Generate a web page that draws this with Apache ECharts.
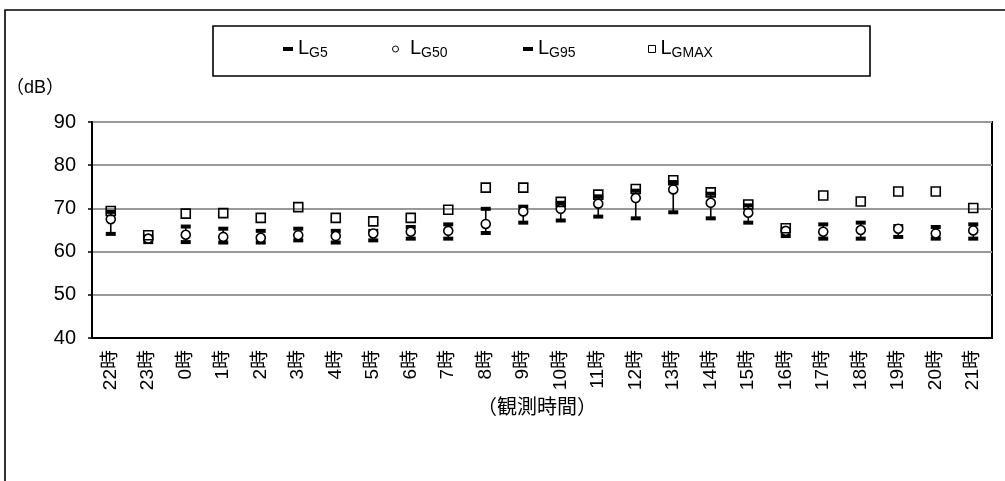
<!DOCTYPE html>
<html>
<head>
<meta charset="utf-8">
<script src="https://cdn.jsdelivr.net/npm/echarts@6/dist/echarts.min.js"></script>
<style>
html,body{margin:0;padding:0;background:#fff;}
#c{width:1005px;height:481px;}
</style>
</head>
<body>
<div id="c"></div>
<script>
const categories = ['22時','23時','0時','1時','2時','3時','4時','5時','6時','7時','8時','9時','10時','11時','12時','13時','14時','15時','16時','17時','18時','19時','20時','21時'];
const LG5   = [69.2, 63.5, 65.8, 65.3, 64.8, 65.3, 64.8, 64.8, 65.7, 66.3, 69.9, 70.4, 71.3, 72.8, 74.1, 76.1, 73.4, 70.7, 65.2, 66.3, 66.7, 65.9, 65.7, 66.3];
const LG50  = [67.5, 63.0, 63.9, 63.4, 63.2, 63.8, 63.6, 64.2, 64.6, 64.8, 66.4, 69.3, 69.9, 71.1, 72.4, 74.4, 71.3, 69.0, 64.8, 64.6, 65.0, 65.3, 64.2, 64.9];
const LG95  = [64.1, 62.2, 62.2, 62.1, 62.1, 62.6, 62.1, 62.6, 63.0, 63.0, 64.3, 66.7, 67.2, 68.1, 67.7, 69.1, 67.7, 66.7, 63.6, 63.0, 63.0, 63.4, 63.0, 63.0];
const LGMAX = [69.4, 63.8, 68.8, 68.9, 67.8, 70.3, 67.8, 67.0, 67.8, 69.7, 74.8, 74.8, 71.5, 73.2, 74.5, 76.5, 73.7, 70.9, 65.4, 73.0, 71.6, 73.9, 73.9, 70.1];
const yTicks = {min: 40, max: 90, interval: 10};
const subLabels = {LG5: 'G5', LG50: 'G50', LG95: 'G95', LGMAX: 'GMAX'};

const FONT = "'Liberation Sans','Noto Sans CJK JP',sans-serif";
const chart = echarts.init(document.getElementById('c'), null, {renderer: 'canvas'});

const legendRich = {
  l: {fontSize: 20, fontFamily: FONT, color: '#000', padding: [0, 0, 2, 0], verticalAlign: 'bottom'},
  s: {fontSize: 14, fontFamily: FONT, color: '#000', verticalAlign: 'bottom'}
};
function mkLegend(name, left, icon, w, h, style) {
  return {
    data: [{name: name, icon: icon}],
    left: left, top: 38, padding: 0,
    itemWidth: w, itemHeight: h,
    itemStyle: style,
    selectedMode: false,
    formatter: n => '{l|L}{s|' + subLabels[n] + '}',
    textStyle: {rich: legendRich, fontFamily: FONT}
  };
}

const option = {
  animation: false,
  backgroundColor: '#fff',
  textStyle: {fontFamily: FONT},
  graphic: [
    {type: 'rect', z: 0, shape: {x: 5, y: 10, width: 1100, height: 600}, style: {fill: 'none', stroke: '#000', lineWidth: 1.6}},
    {type: 'rect', z: 0, shape: {x: 213, y: 26, width: 657, height: 50}, style: {fill: '#fff', stroke: '#000', lineWidth: 1.6}},
    {type: 'text', z: 5, x: 6, y: 79, style: {text: '（dB）', fontSize: 18, fontFamily: FONT, fill: '#000'}},
    {type: 'text', z: 5, x: 537, y: 398, style: {text: '（観測時間）', fontSize: 20, fontFamily: FONT, fill: '#000', textAlign: 'center'}}
  ],
  legend: [
    mkLegend('LG5', 283, 'rect', 10, 4, {color: '#000', borderWidth: 0}),
    mkLegend('LG50', 392, 'circle', 19, 6, {color: '#fff', borderColor: '#000', borderWidth: 1}),
    mkLegend('LG95', 523, 'rect', 10, 4, {color: '#000', borderWidth: 0}),
    mkLegend('LGMAX', 648, 'rect', 7, 7, {color: '#fff', borderColor: '#000', borderWidth: 1})
  ],
  grid: {left: 92, right: 13, top: 122, bottom: 143, show: true, borderColor: '#000', borderWidth: 2, containLabel: false},
  xAxis: {
    type: 'category',
    data: categories,
    boundaryGap: true,
    axisLine: {lineStyle: {color: '#000', width: 2}},
    axisTick: {inside: true, length: 5, lineStyle: {color: '#000', width: 1.5}},
    axisLabel: {rotate: 90, interval: 0, margin: 12, fontSize: 19, color: '#000', fontFamily: FONT},
    splitLine: {show: false}
  },
  yAxis: {
    type: 'value',
    min: yTicks.min, max: yTicks.max, interval: yTicks.interval,
    axisLine: {show: true, lineStyle: {color: '#000', width: 2}},
    axisTick: {show: true, inside: false, length: 4, lineStyle: {color: '#000', width: 1.5}},
    axisLabel: {margin: 16, fontSize: 20, color: '#000', fontFamily: FONT},
    splitLine: {show: true, lineStyle: {color: '#999', width: 2}}
  },
  series: [
    {
      type: 'custom', name: 'hl', silent: true,
      data: categories.map((c, i) => [i, LG5[i], LG95[i]]),
      encode: {x: 0, y: [1, 2]},
      renderItem: function (params, api) {
        const p1 = api.coord([api.value(0), api.value(1)]);
        const p2 = api.coord([api.value(0), api.value(2)]);
        return {type: 'line', shape: {x1: p1[0], y1: p1[1], x2: p2[0], y2: p2[1]}, style: {stroke: '#000', lineWidth: 1.6}};
      },
      z: 2
    },
    {name: 'LG5', type: 'scatter', data: LG5, symbol: 'rect', symbolSize: [10, 4], itemStyle: {color: '#000', opacity: 1}, z: 3},
    {name: 'LG95', type: 'scatter', data: LG95, symbol: 'rect', symbolSize: [10, 4], itemStyle: {color: '#000', opacity: 1}, z: 3},
    {name: 'LG50', type: 'scatter', data: LG50, symbol: 'circle', symbolSize: 9, itemStyle: {color: '#fff', borderColor: '#000', borderWidth: 1.6, opacity: 1}, z: 4},
    {name: 'LGMAX', type: 'scatter', data: LGMAX, symbol: 'rect', symbolSize: 9, itemStyle: {color: 'rgba(0,0,0,0)', borderColor: '#000', borderWidth: 1.6, opacity: 1}, z: 5}
  ]
};
chart.setOption(option);
</script>
</body>
</html>
